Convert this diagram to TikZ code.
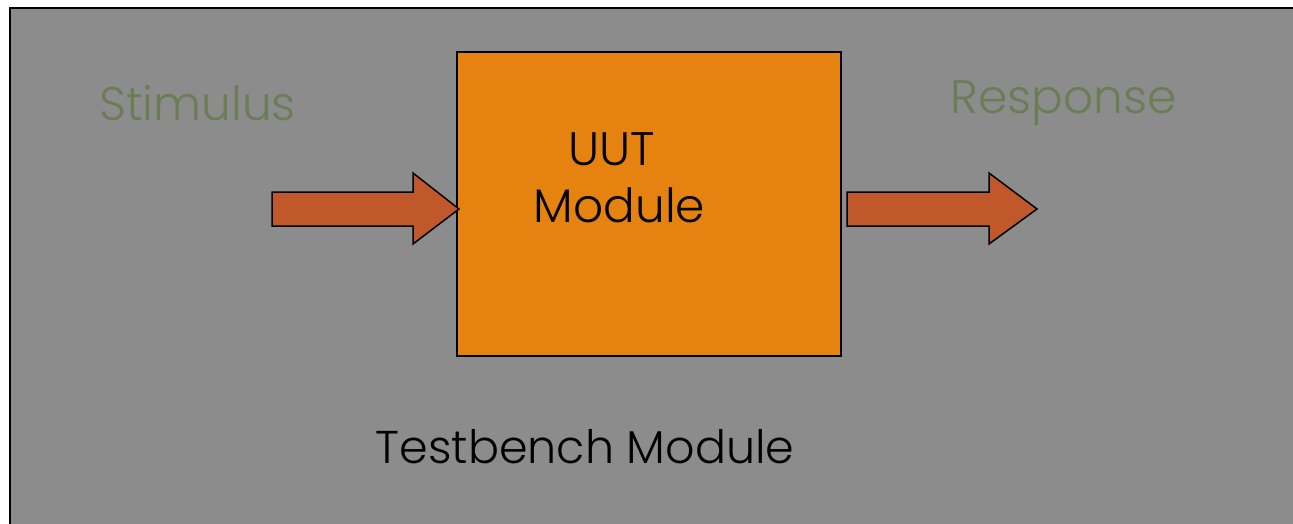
\documentclass[tikz,border=0pt]{standalone}
\usepackage{fontspec}
\setmainfont{Poppins}[UprightFont=*-Light]
\definecolor{benchgray}{HTML}{8C8C8C}
\definecolor{uutorange}{HTML}{E58210}
\definecolor{flowred}{HTML}{C0582B}
\definecolor{labelgreen}{HTML}{6B7D54}
\begin{document}
\begin{tikzpicture}[x=1pt,y=-1pt,
  label text/.style={inner sep=0pt, anchor=base, font=\fontsize{47}{56}\selectfont},
  flow arrow/.style={draw=black, line width=1.5pt, fill=flowred, line join=miter}]
\useasboundingbox (0,0) rectangle (1293,523);
% testbench enclosure
\path[fill=benchgray, draw=black, line width=2pt] (9.5,7.5) rectangle (1310,540);
% unit under test
\node[draw=black, line width=2pt, fill=uutorange, minimum width=384pt, minimum height=304pt,
      inner sep=0pt] (uut) at (649,204) {};
% stimulus and response arrows
\path[flow arrow] (272,192) -- (413,192) -- (413,173) -- (459,209) -- (413,244) -- (413,226) -- (272,226) -- cycle;
\path[flow arrow] (847,192) -- (989,192) -- (989,173) -- (1037,209) -- (989,244) -- (989,226) -- (847,226) -- cycle;
% labels
\node[label text, text=labelgreen] (stim) at (197.5,120) {Stimulus};
\node[label text, text=labelgreen] (resp) at (1063.5,113) {Response};
\node[label text] (uutname) at (611.5,165) {UUT};
\node[label text] (uutmod) at (619.5,222) {Module};
\node[label text, font=\fontsize{46}{55}\selectfont] (tb) at (585,463) {Testbench Module};
\end{tikzpicture}
\end{document}
